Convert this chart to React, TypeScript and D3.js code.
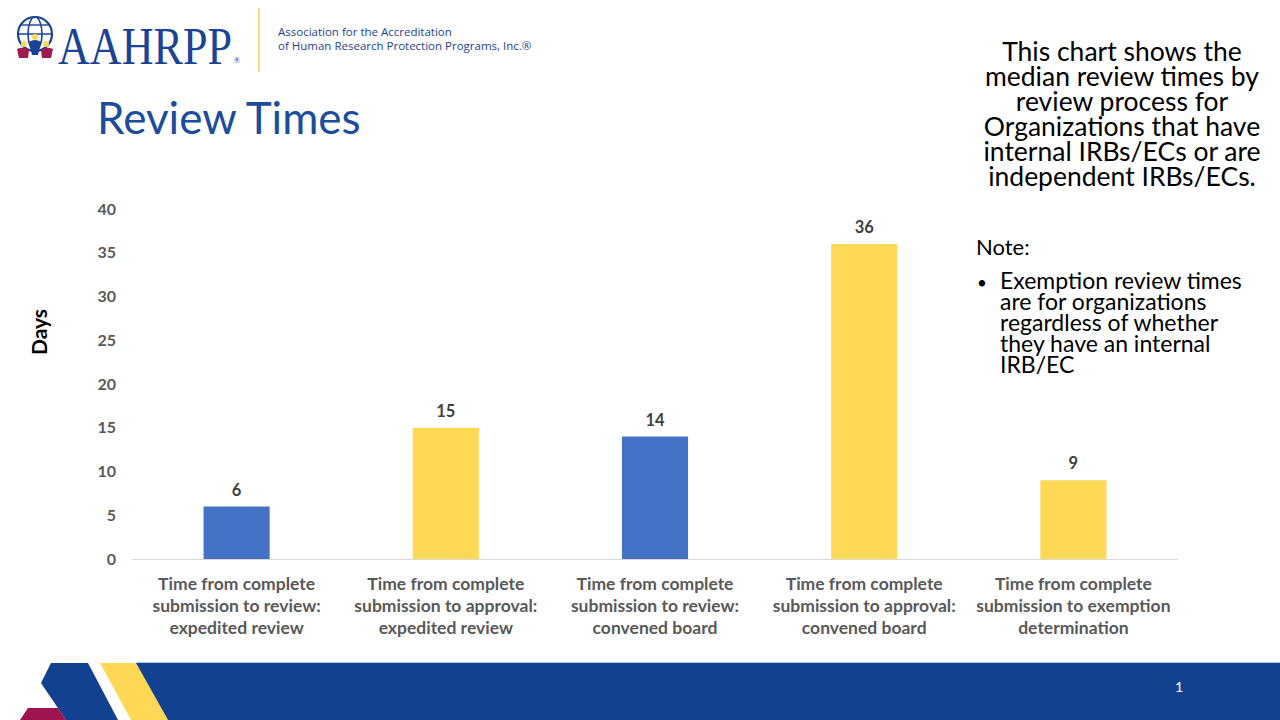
import React from "react";
import * as d3 from "d3";

const categories: string[][] = [
  ["Time from complete", "submission to review:", "expedited review"],
  ["Time from complete", "submission to approval:", "expedited review"],
  ["Time from complete", "submission to review:", "convened board"],
  ["Time from complete", "submission to approval:", "convened board"],
  ["Time from complete", "submission to exemption", "determination"],
];
const values: number[] = [6, 15, 14, 36, 9];
const barColors: string[] = ["#4472C4", "#FFD955", "#4472C4", "#FFD955", "#FFD955"];
const yTicks: number[] = [0, 5, 10, 15, 20, 25, 30, 35, 40];
const sideText: string[] = [
  "This chart shows the",
  "median review times by",
  "review process for",
  "Organizations that have",
  "internal IRBs/ECs or are",
  "independent IRBs/ECs.",
];
const noteLines: string[] = [
  "Exemption review times",
  "are for organizations",
  "regardless of whether",
  "they have an internal",
  "IRB/EC",
];

const FONT = "Lato, 'Open Sans', sans-serif";
const BLUE = "#1A4396";

export default function App() {
  const x = d3
    .scaleBand<number>()
    .domain(d3.range(values.length))
    .range([132, 1178])
    .paddingInner(0.684)
    .paddingOuter(0.342);
  const y = d3.scaleLinear().domain([0, 40]).range([559, 209]);

  return (
    <svg
      width={1280}
      height={720}
      style={{ position: "absolute", left: 0, top: 0, background: "#fff" }}
      fontFamily={FONT}
    >
      <rect x={0} y={0} width={1280} height={720} fill="#fff" />

      {/* Logo */}
      <g>
        <circle cx={35} cy={34} r={17} fill="none" stroke={BLUE} strokeWidth={2.2} />
        <ellipse cx={35} cy={34} rx={7} ry={17} fill="none" stroke={BLUE} strokeWidth={1.6} />
        <line x1={18} y1={34} x2={52} y2={34} stroke={BLUE} strokeWidth={1.6} />
        <line x1={21} y1={25} x2={49} y2={25} stroke={BLUE} strokeWidth={1.4} />
        <circle cx={35} cy={37} r={3} fill="#FFD955" />
        <path d="M29,42 Q35,38 41,42 L38,55 L32,55 Z" fill={BLUE} />
        <circle cx={24} cy={44} r={3} fill="#FFD955" />
        <path d="M17,49 Q24,46 29,50 L28,58 L19,58 Z" fill="#9E1B4F" />
        <circle cx={46} cy={44} r={3} fill="#FFD955" />
        <path d="M41,50 Q46,46 53,49 L51,58 L42,58 Z" fill="#9E1B4F" />
        <text x={58} y={64} fontFamily="'Liberation Serif', 'DejaVu Serif', serif" fontSize={52} fill={BLUE} textLength={174} lengthAdjust="spacingAndGlyphs">
          AAHRPP
        </text>
        <text x={234} y={63} fontSize={7} fill={BLUE}>®</text>
        <line x1={259} y1={8} x2={259} y2={72} stroke="#F7D77C" strokeWidth={2} />
        <text x={278} y={36} fontFamily="'Open Sans', sans-serif" fontSize={11.5} fill={BLUE}>
          Association for the Accreditation
        </text>
        <text x={278} y={50} fontFamily="'Open Sans', sans-serif" fontSize={11.5} fill={BLUE}>
          of Human Research Protection Programs, Inc.®
        </text>
      </g>

      {/* Title */}
      <text x={97} y={134} fontSize={44} fill="#1C4C9C">
        Review Times
      </text>

      {/* Side text */}
      {sideText.map((t, i) => (
        <text key={i} x={1122} y={61 + i * 25} fontSize={26.5} textAnchor="middle" fill="#000">
          {t}
        </text>
      ))}
      <text x={976} y={255} fontSize={22} fill="#000">Note:</text>
      <text x={977} y={289} fontSize={17} fill="#000">•</text>
      {noteLines.map((t, i) => (
        <text key={i} x={1000} y={289 + i * 21} fontSize={23} fill="#000">
          {t}
        </text>
      ))}

      {/* Y axis label */}
      <text
        transform={`translate(47,332) rotate(-90)`}
        textAnchor="middle"
        fontSize={21}
        fontWeight="bold"
        fill="#000"
      >
        Days
      </text>

      {/* Y tick labels */}
      {yTicks.map((t) => (
        <text
          key={t}
          x={116}
          y={y(t) + 5.5}
          textAnchor="end"
          fontSize={16}
          fontWeight="bold"
          fill="#595959"
        >
          {t}
        </text>
      ))}

      {/* Axis baseline */}
      <line x1={132} y1={y(0) + 0.5} x2={1178} y2={y(0) + 0.5} stroke="#D9D9D9" strokeWidth={1} />

      {/* Bars */}
      {values.map((v, i) => (
        <g key={i}>
          <rect
            x={x(i)!}
            y={y(v)}
            width={x.bandwidth()}
            height={y(0) - y(v)}
            fill={barColors[i]}
          />
          <text
            x={x(i)! + x.bandwidth() / 2}
            y={y(v) - 11}
            textAnchor="middle"
            fontSize={16.5}
            fontWeight="bold"
            fill="#404040"
          >
            {v}
          </text>
        </g>
      ))}

      {/* Category labels */}
      {categories.map((lines, i) => (
        <g key={i}>
          {lines.map((l, j) => (
            <text
              key={j}
              x={x(i)! + x.bandwidth() / 2}
              y={590 + j * 22}
              textAnchor="middle"
              fontSize={17.5}
              fontWeight="bold"
              fill="#595959"
            >
              {l}
            </text>
          ))}
        </g>
      ))}

      {/* Footer banner */}
      <polygon points="20,720 28,708 58,708 66,720" fill="#9E1450" />
      <polygon points="41,683 51,663 88,663 118,720 66,720" fill="#12428F" />
      <polygon points="100,663 136,663 168,720 131,720" fill="#FFD955" />
      <polygon points="136,663 1280,663 1280,720 168,720" fill="#12428F" />
      <line x1={136} y1={662.5} x2={1280} y2={662.5} stroke="#B4C7E7" strokeWidth={1} />
      <text x={1179} y={692} fontSize={14} fill="#fff" textAnchor="middle">1</text>
    </svg>
  );
}
